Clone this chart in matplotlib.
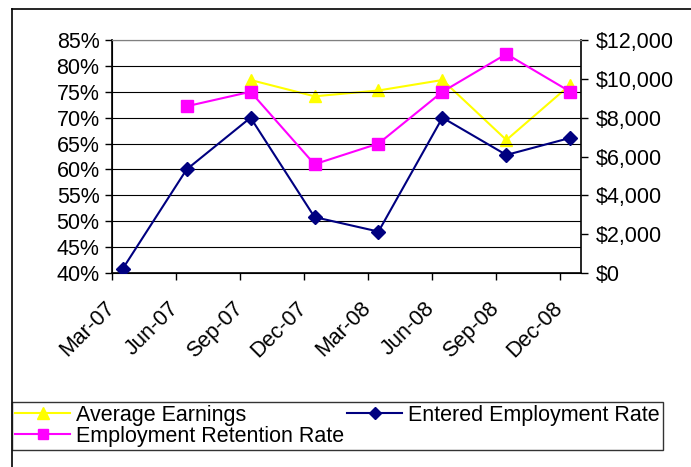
import numpy as np
import matplotlib.pyplot as plt
from matplotlib.lines import Line2D

plt.rcParams['font.family'] = ['Liberation Sans', 'DejaVu Sans']

# quarterly data (one point per quarter, axis runs in months)
quarters = ['Mar-07', 'Jun-07', 'Sep-07', 'Dec-07', 'Mar-08', 'Jun-08', 'Sep-08', 'Dec-08']
entered_rate = [40.8, 60.0, 70.0, 50.8, 48.0, 70.0, 62.8, 66.1]
retention_rate = [np.nan, 72.2, 75.0, 61.0, 65.0, 75.0, 82.3, 75.0]
avg_earnings = [np.nan, np.nan, 9940, 9100, 9400, 9940, 6850, 9700]

pct_ticks = [40, 45, 50, 55, 60, 65, 70, 75, 80, 85]
usd_ticks = [0, 2000, 4000, 6000, 8000, 10000, 12000]

# month slots: Mar-07 .. Dec-08 = 22 months, points sit mid-month
n_months = 22
month_idx = np.arange(len(quarters)) * 3
x_pts = month_idx + 0.5

FS = 15.5

fig = plt.figure(figsize=(6.91, 4.67), dpi=100)
ax = fig.add_axes([112 / 691, 1 - 273 / 467, (581 - 112) / 691, (273 - 40) / 467])
ax2 = ax.twinx()

# earnings axis drawn underneath the percent axis
ax2.set_zorder(ax.get_zorder() - 1)
ax.patch.set_visible(False)
ax2.set_facecolor('#C0C0C0')

ax.plot(x_pts, entered_rate, color='#000080', lw=1.5, marker='D', ms=7,
        label='Entered Employment Rate', zorder=3)
ax.plot(x_pts, retention_rate, color='#FF00FF', lw=1.5, marker='s', ms=8,
        label='Employment Retention Rate', zorder=4)
ax2.plot(x_pts, avg_earnings, color='#FFFF00', lw=1.5, marker='^', ms=9,
         label='Average Earnings')

ax.set_xlim(0, n_months)
ax.set_ylim(40, 85)
ax2.set_ylim(0, 12000)

ax.set_yticks(pct_ticks)
ax.set_yticklabels([f'{v}%' for v in pct_ticks])
ax2.set_yticks(usd_ticks)
ax2.set_yticklabels([f'${v:,}' for v in usd_ticks])

ax.set_xticks(month_idx)
ax.set_xticklabels(quarters, rotation=45, ha='right', va='center',
                   rotation_mode='anchor')

ax.yaxis.grid(True, color='black', lw=0.8)
ax.set_axisbelow(True)

ax.tick_params(axis='y', direction='out', length=5, width=1, labelsize=FS, pad=4)
ax.tick_params(axis='x', direction='out', length=5, width=1, labelsize=FS, pad=18)
ax2.tick_params(axis='y', direction='out', length=5, width=1, labelsize=FS, pad=6)

for sp in ['left', 'bottom']:
    ax.spines[sp].set_color('black')
    ax.spines[sp].set_linewidth(1.2)
ax.spines['top'].set_color('#808080')
ax.spines['right'].set_visible(False)
ax2.spines['right'].set_color('black')
ax2.spines['right'].set_linewidth(1.2)
ax2.spines['top'].set_color('#808080')

# chart area border (left and top visible)
fig.add_artist(Line2D([12 / 691, 12 / 691], [0, 1 - 9 / 467], color='black', lw=1.2))
fig.add_artist(Line2D([12 / 691, 1], [1 - 9 / 467, 1 - 9 / 467], color='black', lw=1.2))

h1, l1 = ax.get_legend_handles_labels()
h2, l2 = ax2.get_legend_handles_labels()
handles = [h2[0], h1[1], h1[0]]
labels = [l2[0], l1[1], l1[0]]
leg = fig.legend(handles, labels, ncol=2, mode='expand',
                 bbox_to_anchor=(12 / 691, 1 - 450 / 467, (663 - 12) / 691, 52 / 467),
                 loc='lower left', fontsize=FS, frameon=True, fancybox=False,
                 edgecolor='black', handlelength=2.55, handletextpad=0.28,
                 borderpad=0.15, labelspacing=0.0, borderaxespad=0,
                 columnspacing=1.0, markerscale=0.9)
leg.get_frame().set_linewidth(1.0)

fig.savefig('out.png', dpi=100)
